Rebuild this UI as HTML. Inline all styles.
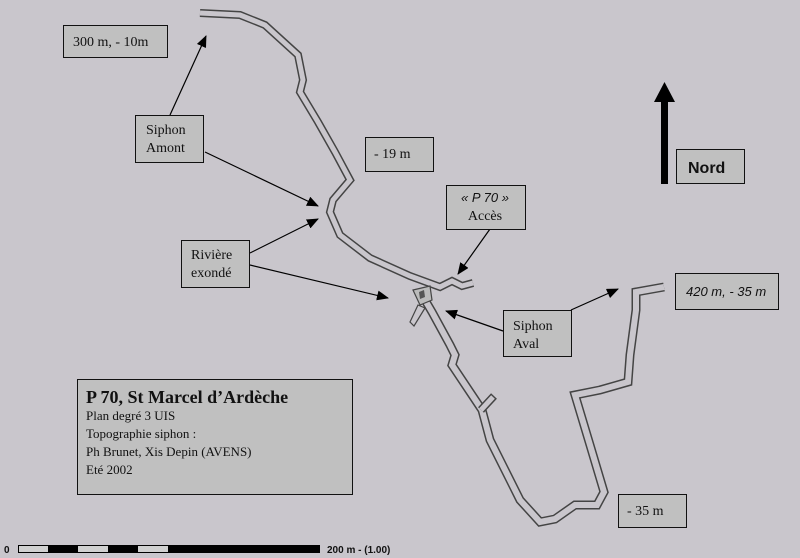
<!DOCTYPE html>
<html><head><meta charset="utf-8"><style>
html,body{margin:0;padding:0;background:#c9c6cc;}
svg{display:block}
text{font-family:"Liberation Serif",serif;fill:#111}
</style></head><body>
<svg width="800" height="558" viewBox="0 0 800 558" xmlns="http://www.w3.org/2000/svg">
<defs>
<marker id="ah" markerWidth="12" markerHeight="10" refX="11" refY="5" orient="auto" markerUnits="userSpaceOnUse">
<path d="M0,0 L12,5 L0,10 z" fill="#000"/></marker>
</defs>
<rect width="800" height="558" fill="#c9c6cc"/>
<g fill="none" stroke-linejoin="miter" stroke-linecap="butt">
<polyline points="200,13 240,15 265,25 298,55 303,80 300,92 318,122 335,152 350,180 333,200 330,212 340,235 370,258 410,276 440,287 452,281 462,286 473,283" stroke="#444" stroke-width="8"/>
<polyline points="200,13 240,15 265,25 298,55 303,80 300,92 318,122 335,152 350,180 333,200 330,212 340,235 370,258 410,276 440,287 452,281 462,286 473,283" stroke="#c9c6cc" stroke-width="5"/>
<polyline points="425,300 432,312 450,345 455,355 452,365 470,392 482,410 490,440 505,470 520,500 540,522 555,519 575,505 597,505 604,492 590,445 575,395 600,390 628,382 630,355 636,310 636,292 664,287" stroke="#444" stroke-width="9"/>
<polyline points="425,300 432,312 450,345 455,355 452,365 470,392 482,410 490,440 505,470 520,500 540,522 555,519 575,505 597,505 604,492 590,445 575,395 600,390 628,382 630,355 636,310 636,292 664,287" stroke="#c9c6cc" stroke-width="6"/>
<line x1="481" y1="410" x2="494" y2="396" stroke="#444" stroke-width="8"/>
<line x1="481" y1="410" x2="493" y2="397" stroke="#c9c6cc" stroke-width="5"/>
<path d="M413,290 L430,286 L432,300 L420,305 Z" fill="#bbb" stroke="#444" stroke-width="1.2"/>
<path d="M419,292 L424,290 L425,297 L420,299 Z" fill="#555"/>
<path d="M418,305 L425,308 L414,326 L410,322 Z" fill="#c9c6cc" stroke="#444" stroke-width="1.2"/>
</g>
<g stroke="#000" stroke-width="1.2" marker-end="url(#ah)">
<line x1="170" y1="115" x2="206" y2="36"/>
<line x1="205" y1="152" x2="318" y2="206"/>
<line x1="250" y1="253" x2="318" y2="219"/>
<line x1="250" y1="265" x2="388" y2="298"/>
<line x1="490" y1="229" x2="458" y2="274"/>
<line x1="503" y1="331" x2="446" y2="311"/>
<line x1="571" y1="310" x2="618" y2="289"/>
</g>
<rect x="661" y="100" width="7" height="84" fill="#000"/>
<path d="M654,102 L664.5,82 L675,102 Z" fill="#000"/>
<g fill="#c0c0c0" stroke="#111" stroke-width="1">
<rect x="63.5" y="25.5" width="104" height="32"/>
<rect x="135.5" y="115.5" width="68" height="47"/>
<rect x="365.5" y="137.5" width="68" height="34"/>
<rect x="446.5" y="185.5" width="79" height="44"/>
<rect x="181.5" y="240.5" width="68" height="47"/>
<rect x="503.5" y="310.5" width="68" height="46"/>
<rect x="675.5" y="273.5" width="103" height="36"/>
<rect x="618.5" y="494.5" width="68" height="33"/>
<rect x="676.5" y="149.5" width="68" height="34"/>
<rect x="77.5" y="379.5" width="275" height="115"/>
</g>
<g font-size="14">
<text x="73" y="46">300 m, - 10m</text>
<text x="146" y="134">Siphon</text><text x="146" y="152">Amont</text>
<text x="374" y="158">- 19 m</text>
<text x="485" y="202" text-anchor="middle" font-style="italic" font-size="13" style="font-family:'Liberation Sans',sans-serif">« P 70 »</text>
<text x="485" y="220" text-anchor="middle">Accès</text>
<text x="191" y="259">Rivière</text><text x="191" y="277">exondé</text>
<text x="513" y="330">Siphon</text><text x="513" y="348">Aval</text>
<text x="627" y="515">- 35 m</text>
</g>
<text x="686" y="296" font-size="13" font-style="italic" style="font-family:'Liberation Sans',sans-serif">420 m, - 35 m</text>
<text x="688" y="173" font-size="16" font-weight="bold" style="font-family:'Liberation Sans',sans-serif">Nord</text>
<text x="86" y="403" font-size="18" font-weight="bold">P 70, St Marcel d’Ardèche</text>
<g font-size="13">
<text x="86" y="420">Plan degré 3 UIS</text>
<text x="86" y="438">Topographie siphon :</text>
<text x="86" y="456">Ph Brunet, Xis Depin (AVENS)</text>
<text x="86" y="474">Eté 2002</text>
</g>
<rect x="18.5" y="545.5" width="301" height="7" fill="#d0d0d0" stroke="#000"/>
<g fill="#000">
<rect x="48" y="545" width="30" height="8"/>
<rect x="108" y="545" width="30" height="8"/>
<rect x="168" y="545" width="152" height="8"/>
</g>
<text x="4" y="553" font-size="10" font-weight="bold" style="font-family:'Liberation Sans',sans-serif">0</text>
<text x="327" y="553" font-size="10" font-weight="bold" style="font-family:'Liberation Sans',sans-serif">200 m - (1.00)</text>
</svg>
</body></html>
